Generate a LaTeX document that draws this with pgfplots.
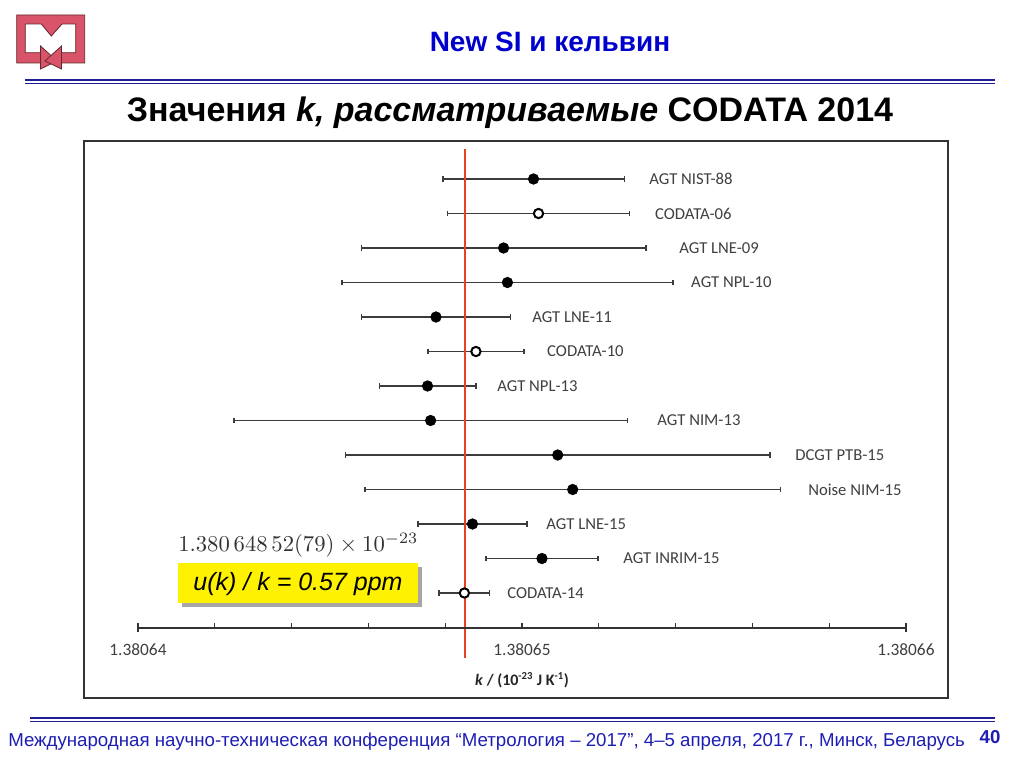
\documentclass[border=0pt]{standalone}
\usepackage{pgfplots}
\pgfplotsset{compat=1.18}
\usepackage{graphicx}
\usepackage{fontspec}
\setmainfont{Liberation Sans}
\newfontfamily\carlito{Carlito}
\definecolor{slideblue}{RGB}{0,0,204}
\definecolor{lineblue}{RGB}{30,30,150}
\definecolor{footblue}{RGB}{30,30,180}
\definecolor{redline}{RGB}{230,66,34}
\definecolor{bargray}{RGB}{60,60,60}
\definecolor{labgray}{RGB}{64,64,64}
\definecolor{logored}{RGB}{217,84,104}
\definecolor{logodark}{RGB}{100,40,45}

\pgfplotstableread{
x y ex
10.30 1 2.36
9.52 3 3.71
9.62 4 4.31
7.76 5 1.95
7.54 7 1.26
7.62 8 5.12
10.93 9 5.53
11.32 10 5.41
8.71 11 1.42
10.52 12 1.46
}\filledpts
\pgfplotstableread{
x y ex
10.43 2 2.36
8.80 6 1.25
8.50 13 0.66
}\openpts

\begin{document}
\begin{tikzpicture}[x=0.75pt,y=-0.75pt]
\path[use as bounding box] (0,0) rectangle (1024,767);
\fill[white] (0,0) rectangle (1024,767);
% logo
\fill[logored, draw=logodark, line width=0.6pt, even odd rule]
  (16.7,15) rectangle (84.7,63)
  (25.3,24) -- (41.3,24) -- (51.3,36) -- (62,24) -- (75.7,24) -- (75.7,52.7) -- (25.3,52.7) -- cycle;
\fill[white] (40.5,52) rectangle (61.5,64);
\filldraw[fill=logored, draw=logodark, line width=0.6pt] (40.5,46) -- (40.5,69) -- (57,61) -- cycle;
\filldraw[fill=logored, draw=logodark, line width=0.6pt] (61.5,46) -- (61.5,69) -- (45,61) -- cycle;
% titles
\node[text=slideblue, font=\fontsize{21}{24}\selectfont\bfseries] at (550,42) {New SI и кельвин};
\draw[lineblue, line width=1.3pt] (25,80) -- (995,80);
\draw[lineblue, line width=1.1pt] (25,83.5) -- (995,83.5);
\node[font=\fontsize{25.5}{28}\selectfont\bfseries] at (510,113) {Значения \textit{k, рассматриваемые} CODATA 2014};
% footer
\draw[lineblue, line width=1.3pt] (30,718) -- (995,718);
\draw[lineblue, line width=1.1pt] (30,721.5) -- (995,721.5);
\node[anchor=west, inner sep=0, text=footblue, font=\fontsize{14}{16}\selectfont] at (8,742) {Международная научно-техническая конференция “Метрология – 2017”, 4–5 апреля, 2017 г., Минск, Беларусь};
\node[text=footblue, font=\fontsize{14}{16}\selectfont\bfseries] at (990,737) {40};

\coordinate (SW) at (84,698);
\coordinate (NL) at (138,628);
\begin{axis}[at={(SW)}, anchor=south west, scale only axis,
  width=648pt, height=417.75pt,
  xmin=-1.40625, xmax=21.09375, ymin=-0.1014, ymax=16.0435, y dir=reverse,
  ticks=none, axis line style={draw=black!80, line width=1.3pt}, clip=false]
\addplot[only marks, mark=*, mark size=4pt, mark options={fill=black, draw=black},
  error bars/.cd, x dir=both, x explicit, error mark=|,
  error bar style={line width=0.9pt, bargray},
  error mark options={line width=0.9pt, bargray, mark size=2pt}]
  table[x=x, y=y, x error=ex] {\filledpts};
\addplot[only marks, mark=*, mark size=3.5pt, mark options={fill=white, draw=black, line width=1.5pt},
  error bars/.cd, x dir=both, x explicit, error mark=|,
  error bar style={line width=0.9pt, bargray},
  error mark options={line width=0.9pt, bargray, mark size=2pt}]
  table[x=x, y=y, x error=ex] {\openpts};
\addplot[redline, line width=1.5pt] coordinates {(8.52,0.13) (8.52,14.88)};
\begin{scope}[every node/.style={anchor=west, inner sep=0, text=labgray, font=\carlito\fontsize{12.5}{14}\selectfont}]
\node at (axis cs:13.31,1) {AGT NIST-88};
\node at (axis cs:13.46,2) {CODATA-06};
\node at (axis cs:14.09,3) {AGT LNE-09};
\node at (axis cs:14.40,4) {AGT NPL-10};
\node at (axis cs:10.26,5) {AGT LNE-11};
\node at (axis cs:10.65,6) {CODATA-10};
\node at (axis cs:9.35,7) {AGT NPL-13};
\node at (axis cs:13.52,8) {AGT NIM-13};
\node at (axis cs:17.11,9) {DCGT PTB-15};
\node at (axis cs:17.45,10) {Noise NIM-15};
\node at (axis cs:10.63,11) {AGT LNE-15};
\node at (axis cs:12.63,12) {AGT INRIM-15};
\node at (axis cs:9.61,13) {CODATA-14};
\end{scope}
\end{axis}

\begin{axis}[at={(NL)}, anchor=south west, scale only axis,
  width=576pt, height=20pt, xmin=0, xmax=20, ymin=0, ymax=1,
  axis x line=bottom, axis y line=none,
  x axis line style={-, draw=black!80, line width=1.3pt},
  xtick={0,2,...,20},
  xticklabels={1.38064,,,,,1.38065,,,,,1.38066},
  tick align=inside, major tick length=3.5pt,
  tick style={draw=black!80, line width=1pt},
  extra x ticks={0,20}, extra x tick labels={},
  extra x tick style={tick align=center, major tick length=6pt},
  xticklabel style={font=\carlito\fontsize{13}{15}\selectfont, text=labgray, yshift=-8pt}]
\end{axis}
\node[font=\carlito\fontsize{12}{14}\selectfont\bfseries, text=black!85] at (522,680) {\textit{k} / (10\textsuperscript{-23} J K\textsuperscript{-1})};

% formula and box
\node[anchor=west, inner sep=0, text=black!80] at (178,545) {\resizebox{180pt}{!}{$1.380\,648\,52(79)\times10^{-23}$}};
\fill[black!35] (182,567) rectangle (422,607);
\fill[yellow] (178,563) rectangle (418,603);
\node[font=\fontsize{18.75}{22}\selectfont\itshape] at (298,584) {u(k) / k = 0.57 ppm};
\end{tikzpicture}
\end{document}
